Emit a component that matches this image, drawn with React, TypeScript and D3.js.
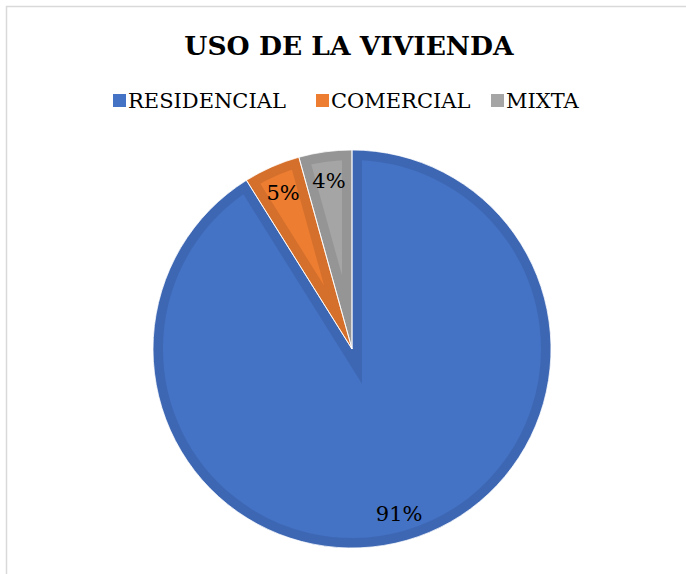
import React from 'react'
import * as d3 from 'd3'

const categories = ['RESIDENCIAL', 'COMERCIAL', 'MIXTA']
const values = [91.1, 4.6, 4.3]
const labels = ['91%', '5%', '4%']
const fills = ['#4472C4', '#ED7D31', '#A5A5A5']
const bands = ['#3E67B3', '#D5702C', '#959595']

const serif = "'DejaVu Serif', serif"

const App = () => {
  const width = 686
  const height = 574
  const cx = 352
  const cy = 349
  const radius = 199

  const pieGen = d3.pie<number>().sort(null).value(d => d)
  const arcs = pieGen(values)
  const arcGen = d3.arc<d3.PieArcDatum<number>>().innerRadius(0).outerRadius(radius)
  const labelArc = d3.arc<d3.PieArcDatum<number>>().innerRadius(171).outerRadius(171)

  // legend layout
  const legendX = [113, 316, 491]

  return (
    <svg width={width} height={height} style={{ position: 'absolute', left: 0, top: 0, background: '#fff', fontFamily: serif }}>
      <rect x={6.5} y={6.5} width={720} height={620} fill='#fff' stroke='#d9d9d9' strokeWidth={1.5} />
      <text x={349} y={55} textAnchor='middle' style={{ fontFamily: serif }} fontWeight='bold' fontSize={26.5} fill='#000'>
        USO DE LA VIVIENDA
      </text>
      {categories.map((c, i) => (
        <g key={c} transform={`translate(${legendX[i]},0)`}>
          <rect x={0} y={94} width={13} height={13} fill={fills[i]} />
          <text x={15} y={108} style={{ fontFamily: serif }} fontSize={21} fill='#000'>{c}</text>
        </g>
      ))}
      <defs>
        {arcs.map((a, i) => (
          <clipPath key={i} id={`clip-${i}`}>
            <path d={arcGen(a) || ''} transform={`translate(${cx},${cy})`} />
          </clipPath>
        ))}
      </defs>
      <g transform={`translate(${cx},${cy})`}>
        {arcs.map((a, i) => (
          <g key={i} clipPath={`url(#clip-${i})`} transform={`translate(${-cx},${-cy})`}>
            <path
              d={arcGen(a) || ''}
              transform={`translate(${cx},${cy})`}
              fill={fills[i]}
              stroke={bands[i]}
              strokeWidth={20}
              strokeLinejoin='miter'
            />
          </g>
        ))}
        {arcs.map((a, i) => (
          <path key={'s' + i} d={arcGen(a) || ''} fill='none' stroke='#fff' strokeWidth={0.8} />
        ))}
        {arcs.map((a, i) => {
          const [lx, ly] = labelArc.centroid(a)
          return (
            <text key={'l' + i} x={lx} y={ly} dy='0.38em' textAnchor='middle'
              style={{ fontFamily: serif }} fontSize={21} fill='#000'>{labels[i]}</text>
          )
        })}
      </g>
    </svg>
  )
}

export default App
